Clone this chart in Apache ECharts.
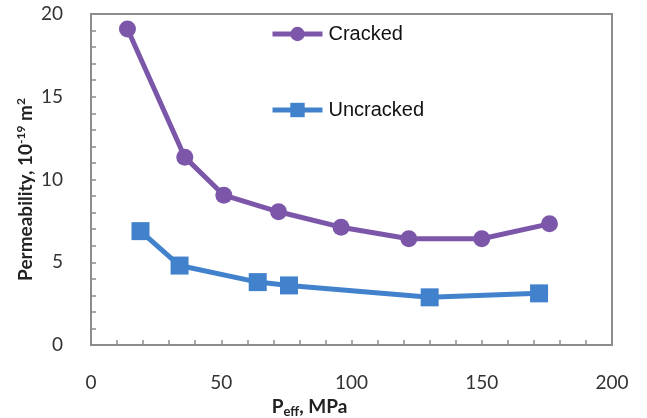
<!DOCTYPE html>
<html><head><meta charset="utf-8">
<script src="https://cdn.jsdelivr.net/npm/echarts@6/dist/echarts.min.js"></script>
<style>html,body{margin:0;padding:0;background:#fff}#c{width:647px;height:418px}</style>
</head><body><div id="c"></div>
<script>
const crackedX = [14, 36, 51, 72, 96, 122, 150, 176];
const crackedY = [19.1, 11.35, 9.05, 8.05, 7.12, 6.42, 6.42, 7.32];
const uncrackedX = [19, 34, 64, 76, 130, 172];
const uncrackedY = [6.88, 4.8, 3.8, 3.6, 2.88, 3.12];
const xTicks = [0, 50, 100, 150, 200];
const yTicks = [0, 5, 10, 15, 20];

const purple = '#7c57a9';
const blue = '#4282cd';
const axisCol = '#8c8c8c';
const font = 'Lato, "Open Sans", sans-serif';

const chart = echarts.init(document.getElementById('c'));
chart.setOption({
  animation: false,
  backgroundColor: '#fff',
  grid: { left: 91, top: 14, width: 521, height: 331, containLabel: false, outerBoundsMode: 'none',
    show: true, borderColor: axisCol, borderWidth: 2, backgroundColor: 'transparent' },
  legend: {
    orient: 'vertical', left: 265, top: 19, itemWidth: 50, itemHeight: 18, itemGap: 56,
    lineStyle: { width: 5 },
    textStyle: { fontSize: 20, color: '#111', fontFamily: 'Liberation Sans, Arial, sans-serif', padding: [0, 0, 0, 1] },
    data: ['Cracked', 'Uncracked']
  },
  xAxis: {
    type: 'value', min: xTicks[0], max: xTicks[xTicks.length - 1], interval: 50,
    axisLine: { show: true, lineStyle: { color: axisCol, width: 2 } },
    axisTick: { show: true, inside: true, length: 5, lineStyle: { color: axisCol, width: 1.5 } },
    minorTick: { show: true, splitNumber: 5, length: 5, lineStyle: { color: axisCol, width: 1.5 } },
    splitLine: { show: false },
    axisLabel: { margin: 28, fontSize: 19, color: '#333', fontFamily: font,
      formatter: v => xTicks.includes(v) ? String(v) : '' },
    name: '{b|P}{s|eff}{b|, MPa}', nameLocation: 'middle', nameGap: 45,
    nameTextStyle: { padding: [0, 84, 0, 0],
      rich: {
        b: { fontSize: 19, fontWeight: 'bold', color: '#222', fontFamily: font },
        s: { fontSize: 13, fontWeight: 'bold', color: '#222', fontFamily: font, padding: [11, 0, 0, 0] }
      } }
  },
  yAxis: {
    type: 'value', min: yTicks[0], max: yTicks[yTicks.length - 1], interval: 5,
    axisLine: { show: true, lineStyle: { color: axisCol, width: 2 } },
    axisTick: { show: true, inside: true, length: 5, lineStyle: { color: axisCol, width: 1.5 } },
    minorTick: { show: true, splitNumber: 5, length: 5, lineStyle: { color: axisCol, width: 1.5 } },
    splitLine: { show: false },
    axisLabel: { margin: 28, fontSize: 19, color: '#333', fontFamily: font,
      formatter: v => yTicks.includes(v) ? String(v) : '' },
    name: '{b|Permeability, 10}{s|-19}{b| m}{s|2}', nameLocation: 'middle', nameGap: 54,
    nameMoveOverlap: false,
    nameTextStyle: { padding: [0, 20, 0, 0],
      rich: {
        b: { fontSize: 19, fontWeight: 'bold', color: '#222', fontFamily: font },
        s: { fontSize: 12, fontWeight: 'bold', color: '#222', fontFamily: font, padding: [0, 0, 10, 0] }
      } }
  },
  series: [
    {
      name: 'Cracked', type: 'line', data: crackedX.map((x, i) => [x, crackedY[i]]),
      symbol: 'circle', symbolSize: 17, lineStyle: { color: purple, width: 5 },
      itemStyle: { color: purple }, color: purple
    },
    {
      name: 'Uncracked', type: 'line', data: uncrackedX.map((x, i) => [x, uncrackedY[i]]),
      symbol: 'rect', symbolSize: 18, lineStyle: { color: blue, width: 5 },
      itemStyle: { color: blue }, color: blue
    }
  ]
});
</script></body></html>
